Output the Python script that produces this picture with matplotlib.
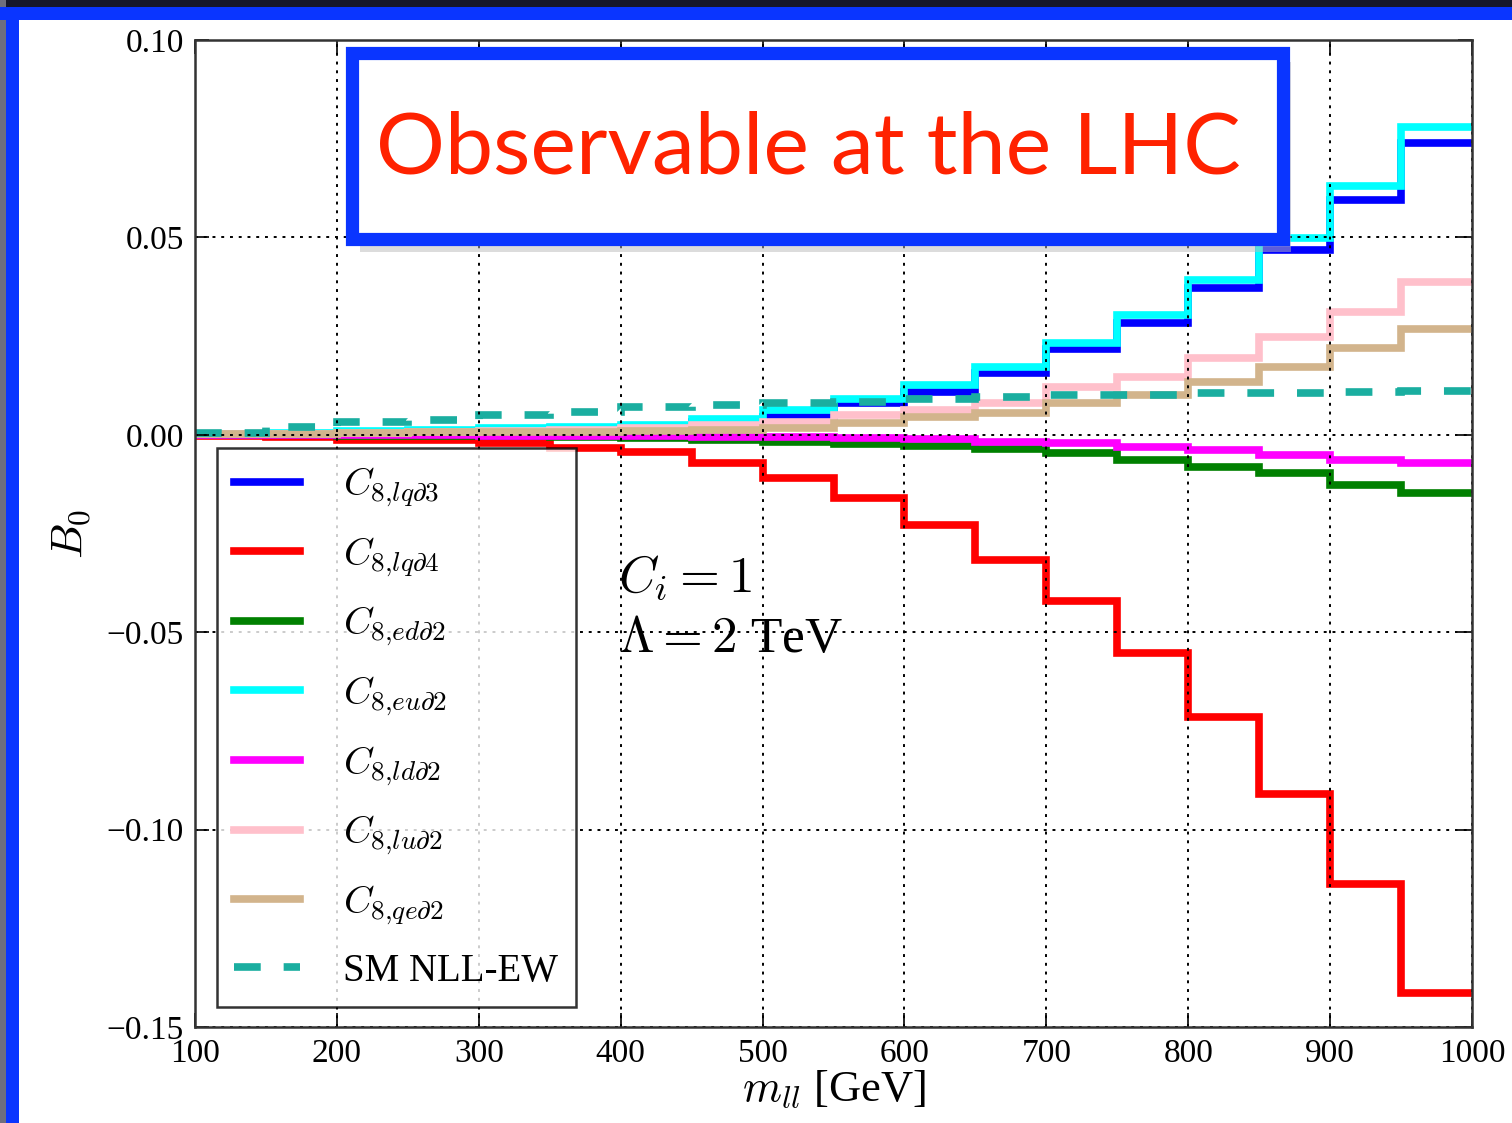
import matplotlib

matplotlib.use("Agg")

import matplotlib.pyplot as plt
import numpy as np
from matplotlib.patches import Rectangle

# bin edges in m_ll [GeV]
edges = np.arange(100, 1001, 50)

lqd3 = [0.0001, 0.0003, 0.0005, 0.0007, 0.0010, 0.0013, 0.0018, 0.0032, 0.0046,
        0.0081, 0.0109, 0.0157, 0.0218, 0.0284, 0.0372, 0.0468, 0.0595, 0.0739]
lqd4 = [-0.0003, -0.0006, -0.0012, -0.0013, -0.0020, -0.0033, -0.0043, -0.0071, -0.0109,
        -0.0159, -0.0228, -0.0316, -0.0420, -0.0552, -0.0714, -0.0909, -0.1137, -0.1413]
edd2 = [-0.0001, -0.0001, -0.0002, -0.0003, -0.0004, -0.0005, -0.0008, -0.0012, -0.0017,
        -0.0023, -0.0028, -0.0035, -0.0046, -0.0063, -0.0081, -0.0096, -0.0127, -0.0147]
eud2 = [0.0002, 0.0004, 0.0010, 0.0012, 0.0017, 0.0020, 0.0025, 0.0040, 0.0063,
        0.0091, 0.0127, 0.0172, 0.0233, 0.0304, 0.0392, 0.0499, 0.0630, 0.0780]
ldd2 = [0.0, 0.0, -0.0001, -0.0001, -0.0002, -0.0003, -0.0004, -0.0005, -0.0006,
        -0.0008, -0.0010, -0.0017, -0.0020, -0.0030, -0.0038, -0.0050, -0.0063, -0.0071]
lud2 = [0.0001, 0.0003, 0.0005, 0.0007, 0.0010, 0.0013, 0.0017, 0.0024, 0.0033,
        0.0050, 0.0063, 0.0081, 0.0120, 0.0147, 0.0195, 0.0248, 0.0311, 0.0387]
qed2 = [0.0002, 0.0003, 0.0005, 0.0006, 0.0007, 0.0008, 0.0009, 0.0011, 0.0018,
        0.0030, 0.0046, 0.0056, 0.0081, 0.0101, 0.0134, 0.0172, 0.0220, 0.0268]
sm_nll = [0.0005, 0.0020, 0.0033, 0.0038, 0.0050, 0.0058, 0.0071, 0.0076, 0.0081,
          0.0084, 0.0091, 0.0096, 0.0101, 0.0101, 0.0106, 0.0106, 0.0109, 0.0111]

series = [
    (lqd3, r"$C_{8{,}lq\partial3}$", "#0000ff"),
    (lqd4, r"$C_{8{,}lq\partial4}$", "#ff0000"),
    (edd2, r"$C_{8{,}ed\partial2}$", "#008000"),
    (eud2, r"$C_{8{,}eu\partial2}$", "#00ffff"),
    (ldd2, r"$C_{8{,}ld\partial2}$", "#ff00ff"),
    (lud2, r"$C_{8{,}lu\partial2}$", "#ffc0cb"),
    (qed2, r"$C_{8{,}qe\partial2}$", "#d2b48c"),
]

plt.rcParams["font.family"] = ["Liberation Serif", "DejaVu Serif"]
plt.rcParams["mathtext.fontset"] = "cm"

W, H = 1512, 1123
fig = plt.figure(figsize=(W / 100, H / 100), dpi=100)
fig.patch.set_facecolor("white")

# slide frame (dark top strip, grey left strip, blue border)
fig.patches.append(Rectangle((0, 1 - 7 / H), 1, 7 / H, transform=fig.transFigure,
                             facecolor="#16172a", edgecolor="none", zorder=0))
fig.patches.append(Rectangle((0, 0), 6 / W, 1, transform=fig.transFigure,
                             facecolor="#6e6e7e", edgecolor="none", zorder=0))
fig.patches.append(Rectangle((0, 1 - 20 / H), 1, 13 / H, transform=fig.transFigure,
                             facecolor="#0a35ff", edgecolor="none", zorder=0))
fig.patches.append(Rectangle((6 / W, 0), 13 / W, 1 - 7 / H, transform=fig.transFigure,
                             facecolor="#0a35ff", edgecolor="none", zorder=0))

ax = fig.add_axes([195 / W, 1 - 1027 / H, (1472 - 195) / W, (1027 - 40) / H])

for vals, label, color in series:
    ax.stairs(vals, edges, baseline=None, color=color, linewidth=5.5, label=label)
ax.stairs(sm_nll, edges, baseline=None, color="#1aaea0", linewidth=5.5,
          linestyle=(0, (3.5, 3.0)), label="SM NLL-EW")

ax.set_xlim(100, 1000)
ax.set_ylim(-0.15, 0.10)
ax.set_xticks(np.arange(100, 1001, 100))
ax.set_yticks([0.10, 0.05, 0.00, -0.05, -0.10, -0.15])
ax.set_yticklabels(["0.10", "0.05", "0.00", "\u22120.05", "\u22120.10", "\u22120.15"])
ax.tick_params(direction="in", length=10, width=1.2, labelsize=24,
               top=True, right=True, pad=8)
ax.grid(True, color="black", linestyle=(0, (1.5, 3)), linewidth=1.4)
for sp in ax.spines.values():
    sp.set_linewidth(1.8)
    sp.set_color("#333333")

ax.set_xlabel(r"$m_{ll}$ [GeV]", fontsize=32, labelpad=0)
ax.set_ylabel(r"$B_0$", fontsize=32, labelpad=10)

ax.text(398, -0.0365, r"$C_i = 1$", fontsize=37, va="center", ha="left")
ax.text(398, -0.0518, r"$\Lambda = 2$ TeV", fontsize=37, va="center", ha="left")

leg = ax.legend(loc="lower left", bbox_to_anchor=(0.017, 0.02), fontsize=28,
                frameon=True, fancybox=False, edgecolor="black", handlelength=1.7,
                handletextpad=1.1, labelspacing=0.67, borderpad=0.45, borderaxespad=0)
leg.get_frame().set_linewidth(1.8)

# "Observable at the LHC" callout
fig.patches.append(Rectangle((360 / W, 1 - 252 / H), 931 / W, 190 / H,
                             transform=fig.transFigure, facecolor="#bbbbbb",
                             edgecolor="none", alpha=0.5, zorder=5))
fig.patches.append(Rectangle((352 / W, 1 - 239 / H), 931 / W, 186 / H,
                             transform=fig.transFigure, facecolor="white",
                             edgecolor="#0a35ff", linewidth=9.5, zorder=6))
fig.text(808 / W, 1 - 150 / H, "Observable at the LHC", fontsize=62,
         family="Lato", color="#ff2200", ha="center", va="center", zorder=7)

fig.savefig("out.png", dpi=100)
